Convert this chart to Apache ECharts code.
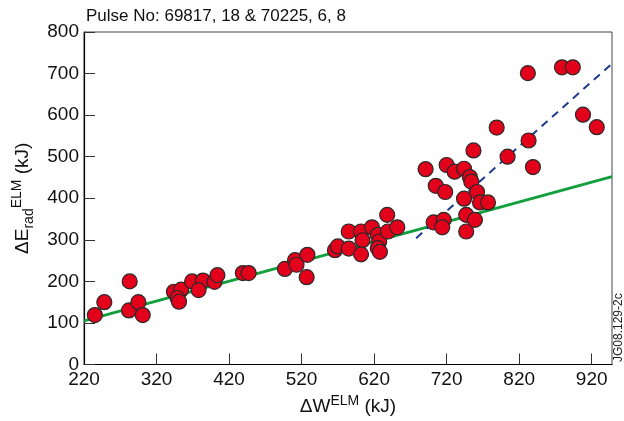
<!DOCTYPE html>
<html>
<head>
<meta charset="utf-8">
<script src="https://cdn.jsdelivr.net/npm/echarts@6/dist/echarts.min.js"></script>
<style>
  html, body { margin: 0; padding: 0; background: #fff; }
  #chart { width: 624px; height: 421px; }
</style>
</head>
<body>
<div id="chart"></div>
<script>
// ELM energy loss (ΔW) vs radiated energy (ΔE_rad), both in kJ
const deltaW = [
  235, 248, 283, 282, 295, 301, 344, 354, 349, 351,
  369, 384, 378, 400, 404, 439, 447, 497, 511, 513,
  528, 527, 566, 570, 585, 585, 602, 604, 602, 617,
  625, 627, 625, 628, 638, 639, 652, 705, 718, 702,
  716, 714, 744, 747, 747, 691, 720, 731, 744, 757,
  752, 754, 762, 766, 777, 759, 804, 833, 839, 832,
  879, 894, 908, 927, 789
];
const deltaErad = [
  119, 150, 200, 130, 150, 119, 175, 180, 160, 151,
  200, 202, 179, 199, 215, 220, 220, 230, 251, 240,
  264, 210, 275, 284, 279, 320, 320, 299, 265, 330,
  312, 296, 280, 271, 360, 320, 330, 430, 415, 342,
  348, 330, 399, 360, 320, 470, 480, 464, 471, 515,
  451, 440, 415, 390, 390, 348, 500, 539, 475, 701,
  715, 715, 601, 571, 570
];

// Fitted trends: low-energy linear fit (solid) and high-energy branch (dashed)
const lowFitX = [220, 948];
const lowFitY = [105, 452];
const highFitX = [678, 948];
const highFitY = [304, 724];

const xTickLabels = [220, 320, 420, 520, 620, 720, 820, 920];
const yTickLabels = [0, 100, 200, 300, 400, 500, 600, 700, 800];

const titleText = 'Pulse No: 69817, 18 & 70225, 6, 8';
const figureId = 'JG08.129-2c';

const pairs = (xs, ys) => xs.map((x, i) => [x, ys[i]]);

const FONT = '"Liberation Sans", Arial, Helvetica, sans-serif';
const chart = echarts.init(document.getElementById('chart'), null, { renderer: 'canvas' });

chart.setOption({
  animation: false,
  backgroundColor: '#ffffff',
  title: {
    text: titleText,
    left: 81,
    top: 3,
    textStyle: { fontFamily: FONT, fontSize: 17, fontWeight: 'normal', color: '#111' }
  },
  grid: {
    left: 84, right: 12, top: 32, bottom: 56,
    show: true, borderColor: '#444', borderWidth: 1
  },
  xAxis: {
    type: 'value',
    min: 220, max: 948,
    interval: 20,
    splitLine: { show: false },
    axisLine: { onZero: false, lineStyle: { color: '#000', width: 1.2 } },
    axisTick: {
      inside: true, length: 11,
      customValues: xTickLabels.slice(1),
      lineStyle: { color: '#333', width: 1 }
    },
    axisLabel: {
      customValues: xTickLabels,
      margin: 6,
      fontFamily: FONT, fontSize: 19, color: '#111'
    },
    name: '{a|ΔW}{sup|ELM}{a| (kJ)}',
    nameLocation: 'middle',
    nameGap: 30,
    nameTextStyle: {
      fontFamily: FONT, color: '#111',
      rich: {
        a: { fontFamily: FONT, fontSize: 19, color: '#111', lineHeight: 24 },
        sup: { fontFamily: FONT, fontSize: 14, color: '#111', verticalAlign: 'top', lineHeight: 14 }
      }
    }
  },
  yAxis: {
    type: 'value',
    min: 0, max: 800,
    interval: 100,
    splitLine: { show: false },
    axisLine: { onZero: false, lineStyle: { color: '#000', width: 1.2 } },
    axisTick: { inside: true, length: 11, lineStyle: { color: '#333', width: 1 } },
    axisLabel: {
      margin: 5,
      fontFamily: FONT, fontSize: 19, color: '#111',
      formatter: v => (yTickLabels.includes(v) ? String(v) : '')
    },
    name: '{a|ΔE}{sub|rad}{sup|ELM}{a| (kJ)}',
    nameLocation: 'middle',
    nameRotate: 90,
    nameGap: 48,
    nameTextStyle: {
      fontFamily: FONT, color: '#111',
      rich: {
        a: { fontFamily: FONT, fontSize: 19, color: '#111', lineHeight: 26 },
        sub: { fontFamily: FONT, fontSize: 14, color: '#111', verticalAlign: 'bottom', lineHeight: 14 },
        sup: { fontFamily: FONT, fontSize: 14, color: '#111', verticalAlign: 'top', lineHeight: 14 }
      }
    }
  },
  graphic: [{
    type: 'text',
    x: 613, y: 362,
    rotation: Math.PI / 2,
    style: {
      text: figureId,
      fontFamily: FONT, fontSize: 12, fill: '#222',
      align: 'left', verticalAlign: 'top'
    }
  }],
  series: [
    {
      type: 'line',
      data: pairs(lowFitX, lowFitY),
      showSymbol: false,
      lineStyle: { color: '#12a03c', width: 3 },
      z: 2,
      silent: true
    },
    {
      type: 'line',
      data: pairs(highFitX, highFitY),
      showSymbol: false,
      lineStyle: { color: '#1d3a8f', width: 2, type: [8, 6] },
      z: 2,
      silent: true
    },
    {
      type: 'scatter',
      data: pairs(deltaW, deltaErad),
      symbol: 'circle',
      symbolSize: 15,
      itemStyle: { color: '#e2001a', borderColor: '#2a2a2a', borderWidth: 1.2, opacity: 1 },
      z: 3
    }
  ]
});
</script>
</body>
</html>
